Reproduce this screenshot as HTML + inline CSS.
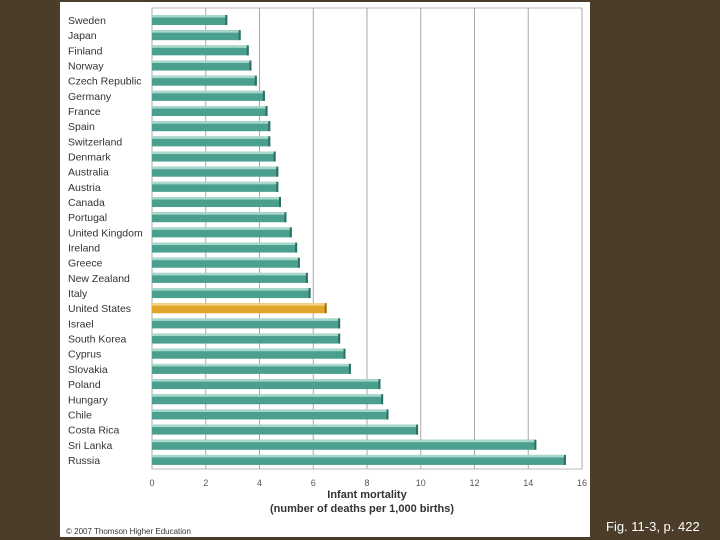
<!DOCTYPE html>
<html><head><meta charset="utf-8"><style>
body{margin:0;background:#4b3d2a;width:720px;height:540px;overflow:hidden;font-family:"Liberation Sans",sans-serif}
#panel{position:absolute;left:60px;top:2px;width:530px;height:535px;background:#fff}
#cap{position:absolute;left:606px;top:519px;color:#fff;font-size:13px}
</style></head><body>
<div id="panel"></div>
<svg id="chart" width="720" height="540" style="position:absolute;left:0;top:0"></svg>
<div id="cap">Fig. 11-3, p. 422</div>
<script>
const countries=["Sweden","Japan","Finland","Norway","Czech Republic","Germany","France","Spain","Switzerland","Denmark","Australia","Austria","Canada","Portugal","United Kingdom","Ireland","Greece","New Zealand","Italy","United States","Israel","South Korea","Cyprus","Slovakia","Poland","Hungary","Chile","Costa Rica","Sri Lanka","Russia"];
const values=[2.8,3.3,3.6,3.7,3.9,4.2,4.3,4.4,4.4,4.6,4.7,4.7,4.8,5.0,5.2,5.4,5.5,5.8,5.9,6.5,7.0,7.0,7.2,7.4,8.5,8.6,8.8,9.9,14.3,15.4];
const ticks=[0,2,4,6,8,10,12,14,16];
const highlight="United States";
const svg=document.getElementById('chart');const NS="http://www.w3.org/2000/svg";
const x=v=>152+v*(430/16);
const y=i=>20+i*15.17;
function mk(t,a,txt){const e=document.createElementNS(NS,t);for(const k in a)e.setAttribute(k,a[k]);if(txt!==undefined)e.textContent=txt;svg.appendChild(e);return e;}
// frame
let f=mk('rect',{x:152,y:8,width:430,height:461,fill:'none',stroke:'#bbb'});


ticks.forEach(t=>{
 let g=mk('line',{x1:x(t),x2:x(t),y1:8,y2:469,stroke:'#aaa','stroke-width':1});
 
 
 let l=mk('text',{x:x(t),y:486,'font-size':9,fill:'#555','text-anchor':'middle'},t);
 
 
});
countries.forEach((c,i)=>{
 const cy=y(i),hl=c===highlight;
 const col=hl?'#e0a428':'#4a9f8f',lt=hl?'#f4d080':'#a8d8cc',dk=hl?'#a07010':'#2e6e62';
 let b=mk('rect',{x:152,y:cy-5,width:x(values[i])-152,height:10,fill:col});
 
 
 mk('rect',{x:152,y:cy-5,width:x(values[i])-152,height:2.5,fill:lt});
 mk('rect',{x:x(values[i])-2,y:cy-5,width:2,height:10,fill:dk});
 let t=mk('text',{x:68,y:cy+4,'font-size':10.5,fill:'#333'},c);
 
 
});
let a=mk('text',{x:367,y:498,'font-size':11,'font-weight':'bold',fill:'#333','text-anchor':'middle'},'Infant mortality');


let a2=mk('text',{x:362,y:512,'font-size':11,'font-weight':'bold',fill:'#333','text-anchor':'middle'},'(number of deaths per 1,000 births)');


let cr=mk('text',{x:66,y:534,'font-size':8,fill:'#333'},'© 2007 Thomson Higher Education');


</script>
</body></html>
